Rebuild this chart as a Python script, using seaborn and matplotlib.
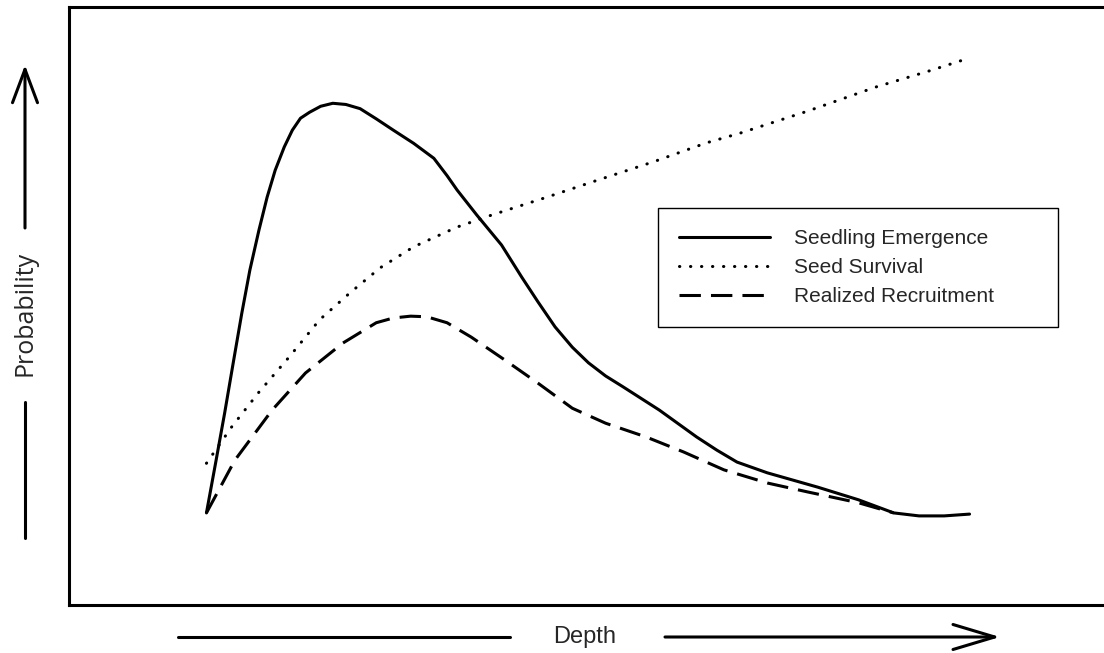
import numpy as np
import pandas as pd
import matplotlib
matplotlib.use('Agg')
import matplotlib.pyplot as plt
from matplotlib.lines import Line2D
import seaborn as sns

# depth (arbitrary units) and probability values
emergence_depth = [1.314, 1.401, 1.488, 1.570, 1.652, 1.729, 1.816, 1.894, 1.971, 2.058,
                   2.135, 2.213, 2.300, 2.406, 2.522, 2.647, 2.783, 2.937, 3.101, 3.295,
                   3.488, 3.614, 3.710, 3.899, 4.135, 4.329, 4.483, 4.647, 4.812, 4.966,
                   5.130, 5.295, 5.643, 6.000, 6.193, 6.386, 6.676, 7.159, 7.546, 7.884,
                   8.126, 8.367, 8.609]
emergence_prob = [0.154, 0.237, 0.321, 0.405, 0.488, 0.560, 0.627, 0.682, 0.727, 0.766,
                  0.794, 0.814, 0.824, 0.834, 0.839, 0.837, 0.830, 0.813, 0.794, 0.772,
                  0.747, 0.718, 0.694, 0.652, 0.602, 0.548, 0.507, 0.465, 0.431, 0.405,
                  0.383, 0.365, 0.326, 0.281, 0.259, 0.239, 0.221, 0.197, 0.176, 0.154,
                  0.149, 0.149, 0.152]

survival_depth = [1.314, 1.556, 1.816, 2.106, 2.396, 2.686, 2.976, 3.295, 3.710, 4.039,
                  4.551, 5.063, 5.585, 6.097, 6.415, 7.063, 7.710, 8.222, 8.541]
survival_prob = [0.237, 0.298, 0.356, 0.415, 0.477, 0.522, 0.564, 0.599, 0.632, 0.652,
                 0.681, 0.711, 0.741, 0.773, 0.789, 0.826, 0.866, 0.893, 0.911]

recruit_depth = [1.314, 1.585, 1.942, 2.261, 2.618, 2.937, 3.101, 3.266, 3.420, 3.614,
                 3.845, 4.164, 4.483, 4.812, 5.130, 5.517, 5.874, 6.261, 6.676, 7.063,
                 7.546, 7.884]
recruit_prob = [0.154, 0.242, 0.326, 0.388, 0.438, 0.472, 0.480, 0.483, 0.482, 0.472,
                0.448, 0.410, 0.371, 0.329, 0.304, 0.281, 0.256, 0.226, 0.204, 0.189,
                0.171, 0.154]

series_names = ['Seedling Emergence', 'Seed Survival', 'Realized Recruitment']

df = pd.concat([
    pd.DataFrame({'Depth': emergence_depth, 'Probability': emergence_prob, 'Series': series_names[0]}),
    pd.DataFrame({'Depth': survival_depth, 'Probability': survival_prob, 'Series': series_names[1]}),
    pd.DataFrame({'Depth': recruit_depth, 'Probability': recruit_prob, 'Series': series_names[2]}),
], ignore_index=True)

sns.set_style('white')
plt.rcParams['font.family'] = ['Liberation Sans', 'DejaVu Sans']

W, H = 1104, 653
fig = plt.figure(figsize=(W / 100, H / 100), dpi=100)
ax = fig.add_axes([69 / W, 1 - 605 / H, 1 - 69 / W + 0.01, (605 - 7) / H])

dash_map = {series_names[0]: '', series_names[1]: (0.1, 3.5), series_names[2]: (7, 3.3)}
sns.lineplot(data=df, x='Depth', y='Probability', hue='Series', style='Series',
             palette=['black'] * 3, dashes=dash_map, sort=False, estimator=None,
             linewidth=2.2, ax=ax, legend=False)

for line, name in zip(ax.lines, series_names):
    line.set_solid_joinstyle('round')
    line.set_dash_joinstyle('round')
    if name == 'Seed Survival':
        line.set_dash_capstyle('round')

ax.set_xlim(0, 10)
ax.set_ylim(0, 1)
ax.set_xticks([])
ax.set_yticks([])
ax.set_xlabel('')
ax.set_ylabel('')
for side in ['left', 'top', 'bottom']:
    ax.spines[side].set_color('black')
    ax.spines[side].set_linewidth(2.2)
ax.spines['right'].set_visible(False)

# legend
handles = [Line2D([], [], color='black', lw=2.2, dashes=(None, None) if d == '' else d)
           for d in dash_map.values()]
handles[0].set_linestyle('-')
leg = ax.legend(handles, series_names, loc='upper left',
                bbox_to_anchor=(658 / W, 1 - 208 / H, 400 / W, 0.0), mode='expand',
                bbox_transform=fig.transFigure, borderaxespad=0, fontsize=15,
                handlelength=4.37, handletextpad=1.15, borderpad=1.0, labelspacing=0.48,
                frameon=True, fancybox=False, edgecolor='black', framealpha=1)
leg.get_frame().set_linewidth(1.0)
leg.get_lines()[1].set_dash_capstyle('round')

# y axis label with arrow
fig.add_artist(Line2D([25 / W, 25 / W], [1 - 538 / H, 1 - 402 / H], color='black', lw=2.2))
ax.annotate('', xy=(25, H - 65), xytext=(25, H - 228), xycoords='figure pixels',
            textcoords='figure pixels',
            arrowprops=dict(arrowstyle='->,head_length=0.4,head_width=0.15',
                            mutation_scale=60, lw=2.2, color='black', shrinkA=0, shrinkB=0))
fig.text(25 / W, 1 - 313 / H, 'Probability', rotation=90, ha='center', va='center',
         fontsize=18, family=['Open Sans', 'DejaVu Sans'])

# x axis label with arrow
fig.add_artist(Line2D([178 / W, 510 / W], [16 / H, 16 / H], color='black', lw=2.2))
ax.annotate('', xy=(1000, 16), xytext=(665, 16), xycoords='figure pixels',
            textcoords='figure pixels',
            arrowprops=dict(arrowstyle='->,head_length=0.5,head_width=0.15',
                            mutation_scale=60, lw=2.2, color='black', shrinkA=0, shrinkB=0))
fig.text(585 / W, 16 / H, 'Depth', ha='center', va='center', fontsize=17)

fig.savefig('out.png', dpi=100)
